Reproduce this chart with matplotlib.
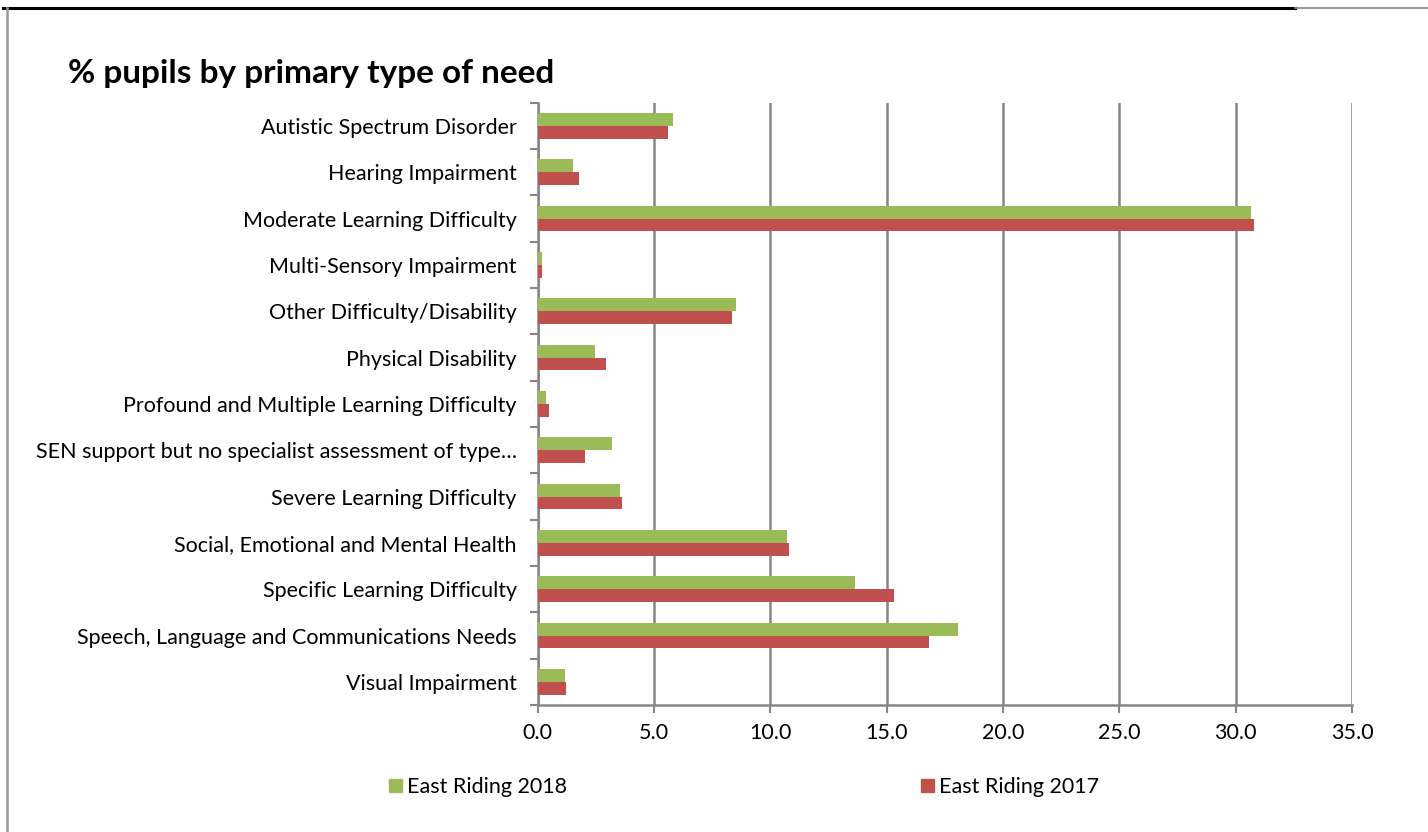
import numpy as np
import matplotlib.pyplot as plt
from matplotlib.lines import Line2D
from matplotlib.patches import Patch

# data
categories = [
    "Autistic Spectrum Disorder",
    "Hearing Impairment",
    "Moderate Learning Difficulty",
    "Multi-Sensory Impairment",
    "Other Difficulty/Disability",
    "Physical Disability",
    "Profound and Multiple Learning Difficulty",
    "SEN support but no specialist assessment of type\u2026",
    "Severe Learning Difficulty",
    "Social, Emotional and Mental Health",
    "Specific Learning Difficulty",
    "Speech, Language and Communications Needs",
    "Visual Impairment",
]
er_2018 = [5.83, 1.53, 30.68, 0.17, 8.51, 2.48, 0.37, 3.19, 3.52, 10.71, 13.62, 18.05, 1.16]
er_2017 = [5.61, 1.77, 30.77, 0.17, 8.35, 2.92, 0.49, 2.05, 3.61, 10.80, 15.30, 16.80, 1.20]
x_ticks = [0, 5, 10, 15, 20, 25, 30, 35]

green = "#9BBB59"
red = "#C0504D"
grey = "#868686"

plt.rcParams['font.family'] = ['Lato', 'DejaVu Sans']

fig = plt.figure(figsize=(14.28, 8.32), dpi=100)
ax = fig.add_axes([537.7 / 1428, 1 - 705 / 832, (1352 - 537.7) / 1428, (705 - 102.7) / 832])

n = len(categories)
y = np.arange(n)
h = 0.28
ax.barh(y - h / 2, er_2018, height=h, color=green, zorder=3, label="East Riding 2018")
ax.barh(y + h / 2, er_2017, height=h, color=red, zorder=3, label="East Riding 2017")

ax.set_ylim(n - 0.5, -0.5)
ax.set_xlim(0, 35)
ax.set_yticks(y)
ax.set_yticklabels(categories, fontsize=15.5)
ax.set_yticks(np.arange(n + 1) - 0.5, minor=True)
ax.tick_params(axis='y', which='major', length=0, pad=15)
ax.tick_params(axis='y', which='minor', length=6, width=1.5, color=grey)

ax.set_xticks(x_ticks)
ax.set_xticklabels(["%.1f" % v for v in x_ticks], fontsize=15.5)
ax.tick_params(axis='x', length=6, width=1.5, color=grey, pad=7)
ax.grid(axis='x', color=grey, linewidth=1.8, zorder=0)

for side in ['top', 'right']:
    ax.spines[side].set_visible(False)
for side in ['left', 'bottom']:
    ax.spines[side].set_color(grey)
    ax.spines[side].set_linewidth(1.8)

fig.text(68 / 1428, 1 - 73 / 832, "% pupils by primary type of need",
         fontsize=24, fontweight='bold', va='center', ha='left')

# legend entries placed separately like the original
fig.legend(handles=[Patch(color=green)], labels=["East Riding 2018"], loc='center left',
           bbox_to_anchor=(370 / 1428, 1 - 787 / 832), frameon=False, fontsize=15.5,
           handlelength=0.6, handleheight=0.6, handletextpad=0.2)
fig.legend(handles=[Patch(color=red)], labels=["East Riding 2017"], loc='center left',
           bbox_to_anchor=(902 / 1428, 1 - 787 / 832), frameon=False, fontsize=15.5,
           handlelength=0.6, handleheight=0.6, handletextpad=0.2)

# outer frame lines
fig.add_artist(Line2D([3 / 1428, 1295 / 1428], [1 - 8 / 832, 1 - 8 / 832], color='black', linewidth=2.2))
fig.add_artist(Line2D([1295 / 1428, 1], [1 - 8 / 832, 1 - 8 / 832], color=grey, linewidth=1.2))
fig.add_artist(Line2D([7 / 1428, 7 / 1428], [0, 1 - 8 / 832], color='#999999', linewidth=1.8))

fig.savefig("out.png", dpi=100)
